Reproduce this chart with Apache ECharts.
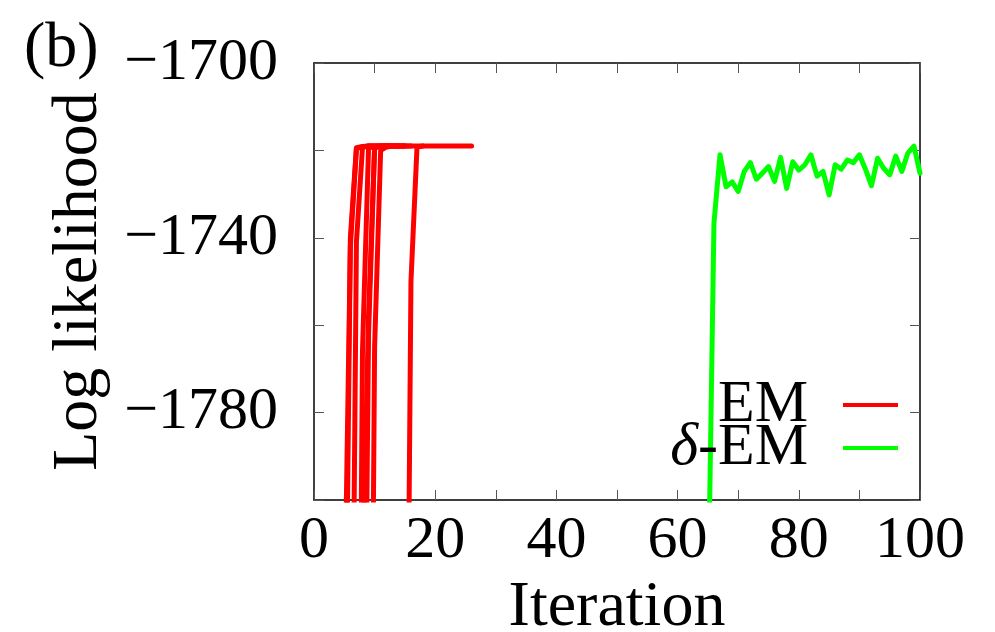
<!DOCTYPE html>
<html>
<head>
<meta charset="utf-8">
<script src="https://cdn.jsdelivr.net/npm/echarts@6/dist/echarts.min.js"></script>
<style>
html,body{margin:0;padding:0;background:#fff;}
#chart{width:995px;height:632px;}
</style>
</head>
<body>
<div id="chart"></div>
<script>
// ---- data ----
const xTickLabels = [0, 20, 40, 60, 80, 100];
const yTickLabels = [-1700, -1740, -1780];

// EM runs: start iteration + log-likelihood values per iteration
const emStarts = [5, 5, 6, 7, 8, 8, 9, 15];
const emRun1 = [-1870, -1740, -1719.4, -1719.1, -1719, -1719, -1719, -1719];
const emRun2 = [-1830, -1742, -1719.6, -1719.2, -1719, -1719, -1719, -1719, -1719];
const emRun3 = [-1900, -1741, -1719.3, -1719, -1719, -1719, -1719, -1719, -1719, -1719];
const emRun4 = [-1950, -1766, -1719.5, -1719.1, -1719, -1719, -1719, -1719];
const emRun5 = [-1820, -1758, -1719.4, -1719.1, -1719, -1719, -1719, -1719];
const emRun6 = [-1900, -1762, -1719.2, -1719, -1719, -1719, -1719, -1719, -1719];
const emRun7 = [-1950, -1765, -1720, -1719.2, -1719, -1719, -1719, -1719, -1719, -1719];
const emRun8 = [-1917, -1750, -1719.2, -1719, -1719, -1719, -1719, -1719, -1719, -1719, -1719, -1719];
const emRuns = [emRun1, emRun2, emRun3, emRun4, emRun5, emRun6, emRun7, emRun8];

// delta-EM run
const deltaStart = 65;
const deltaEM = [-1827, -1736.6, -1721, -1728.3, -1727.2, -1729.4, -1724.8, -1722.8, -1726.6, -1725.2,
  -1723.7, -1727.1, -1721.6, -1728.7, -1722.6, -1724.5, -1723.3, -1721, -1725.9, -1724.8,
  -1730.2, -1723.3, -1724.3, -1722.2, -1722.8, -1721, -1724.3, -1728.1, -1721.8, -1724.1,
  -1725.6, -1721.3, -1724.8, -1720.6, -1719, -1725.2];

// ---- chart ----
const FONT = 'Liberation Serif';
const FS = 60;
const NFS = 64;
function pairs(start, vals) { return vals.map((v, i) => [start + i, v]); }

const series = emRuns.map((run, k) => ({
  name: 'EM', type: 'line', data: pairs(emStarts[k], run),
  showSymbol: false, symbol: 'none', clip: true,
  lineStyle: { color: '#ff0000', width: 5, cap: 'round', join: 'round' },
  itemStyle: { color: '#ff0000' }, z: 3
}));
series.push({
  name: 'δ-EM', type: 'line', data: pairs(deltaStart, deltaEM),
  showSymbol: false, symbol: 'none', clip: true,
  lineStyle: { color: '#00ff00', width: 5, cap: 'round', join: 'round' },
  itemStyle: { color: '#00ff00' }, z: 3
});

const tickStyle = { show: true, inside: true, length: 10, lineStyle: { color: '#555', width: 1 } };
const lineStyle = { show: true, onZero: false, lineStyle: { color: '#000', width: 1.5 } };

const chart = echarts.init(document.getElementById('chart'), null, { renderer: 'canvas' });
chart.setOption({
  animation: false,
  backgroundColor: '#fff',
  textStyle: { fontFamily: FONT },
  title: {
    text: '(b)', left: 24, top: 17, padding: 0,
    textStyle: { fontFamily: FONT, fontSize: 64, fontWeight: 'normal', color: '#000' }
  },
  grid: { left: 314, top: 63, right: 75, bottom: 132, containLabel: false, outerBoundsMode: 'none' },
  legend: {
    orient: 'vertical', right: 97, top: 375, padding: 0, itemGap: -17,
    align: 'right', icon: 'rect', itemWidth: 55, itemHeight: 4,
    data: ['EM', 'δ-EM'],
    formatter: n => n === 'δ-EM' ? '{i|δ}-EM' : n,
    textStyle: {
      fontFamily: FONT, fontSize: FS, color: '#000', lineHeight: 47, padding: [0, 30, 0, 0],
      rich: { i: { fontFamily: FONT, fontSize: FS, fontStyle: 'italic', color: '#000', lineHeight: 47 } }
    }
  },
  xAxis: [{
    type: 'value', min: 0, max: 100, interval: 10, position: 'bottom',
    name: 'Iteration', nameLocation: 'middle', nameGap: 50,
    nameTextStyle: { fontFamily: FONT, fontSize: NFS, color: '#000' },
    axisLine: lineStyle, axisTick: tickStyle, splitLine: { show: false },
    axisLabel: {
      margin: 11, fontFamily: FONT, fontSize: FS, color: '#000',
      formatter: v => xTickLabels.includes(v) ? String(v) : ''
    }
  }, {
    type: 'value', min: 0, max: 100, interval: 10, position: 'top',
    axisLine: lineStyle, axisTick: tickStyle, axisLabel: { show: false }, splitLine: { show: false }
  }],
  yAxis: [{
    type: 'value', min: -1800, max: -1700, interval: 20, position: 'left',
    name: 'Log likelihood', nameLocation: 'middle', nameRotate: 90, nameGap: 203,
    nameTextStyle: { fontFamily: FONT, fontSize: NFS, color: '#000' },
    axisLine: lineStyle, axisTick: tickStyle, splitLine: { show: false },
    axisLabel: {
      margin: 36, fontFamily: FONT, fontSize: FS, color: '#000',
      formatter: v => yTickLabels.includes(v) ? '\u2212' + Math.abs(v) : ''
    }
  }, {
    type: 'value', min: -1800, max: -1700, interval: 20, position: 'right',
    axisLine: lineStyle, axisTick: tickStyle, axisLabel: { show: false }, splitLine: { show: false }
  }],
  series: series
});
</script>
</body>
</html>
